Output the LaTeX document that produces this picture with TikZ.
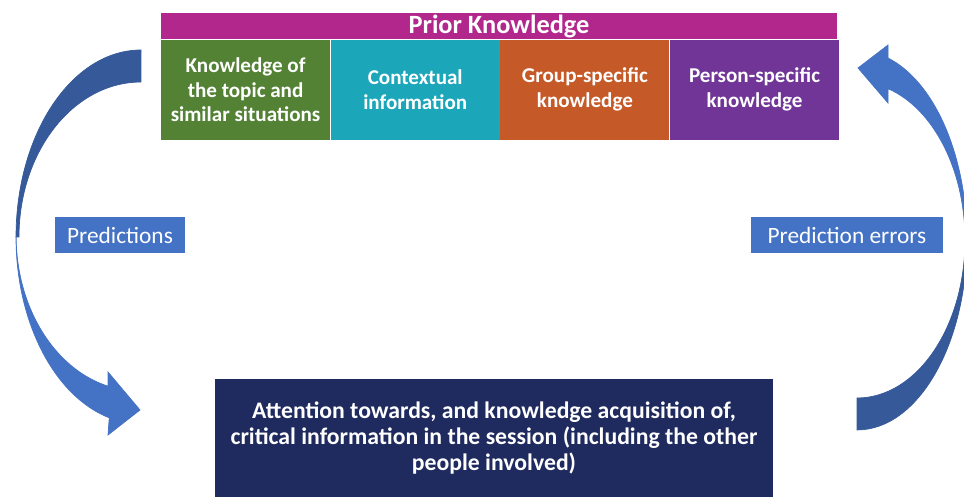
\documentclass[tikz,border=0pt]{standalone}
\usepackage{fontspec}
\setmainfont{Carlito}
\usetikzlibrary{positioning}

\definecolor{priorpink}{RGB}{177,39,140}
\definecolor{topicgreen}{RGB}{84,130,53}
\definecolor{contextteal}{RGB}{27,166,185}
\definecolor{grouporange}{RGB}{197,90,40}
\definecolor{personpurple}{RGB}{112,53,150}
\definecolor{sessionnavy}{RGB}{31,42,94}
\definecolor{tagblue}{RGB}{68,114,196}
\definecolor{backblue}{RGB}{54,89,154}
\definecolor{edgeblue}{RGB}{40,70,130}

\begin{document}
\begin{tikzpicture}[x = 0.02cm, y = 0.02cm,
    every node/.style = {inner sep = 0pt, text = white, align = center},
    part/.style = {minimum width = 3.38cm, minimum height = 2cm,
        font = \bfseries\fontsize{12}{14.2}\selectfont},
    tag/.style = {fill = tagblue, minimum height = 0.72cm,
        font = \fontsize{13.3}{16}\selectfont},
    loopband/.style = {draw = edgeblue, line width = 0.4pt}]
    \useasboundingbox (0,0) rectangle (964,497);
    \clip (0,0) rectangle (964,497);

    % prior knowledge bar and its four parts
    \node[fill = priorpink, minimum width = 13.52cm, minimum height = 0.52cm,
        font = \bfseries\fontsize{15}{18}\selectfont] (prior) at (499,471) {Prior Knowledge};
    \node[part, fill = topicgreen, anchor = north west] (topic) at (prior.south west)
        {Knowledge of\\the topic and\\similar situations};
    \node[part, fill = contextteal, right = 0pt of topic] (context) {Contextual\\information};
    \node[part, fill = grouporange, right = 0pt of context] (group) {Group-specific\\knowledge};
    \node[part, fill = personpurple, right = 0pt of group] (person) {Person-specific\\knowledge};

    % labels of the two loops
    \node[tag, minimum width = 2.6cm] (pred) at (120,262) {Predictions};
    \node[tag, minimum width = 3.84cm] (error) at (847,262) {Prediction errors};

    % session box
    \node[fill = sessionnavy, minimum width = 11.16cm, minimum height = 2.36cm,
        font = \bfseries\fontsize{13.5}{15}\selectfont] (session) at (494,59)
        {Attention towards, and knowledge acquisition of,\\critical information in the session (including the other\\people involved)};

    % left curved arrow, down to the session
    \fill[loopband, backblue] (141,447) arc[start angle = 90, end angle = 180, x radius = 2.5cm, y radius = 3.74cm]
        -- (19,260) arc[start angle = 180, end angle = 90, x radius = 2.44cm, y radius = 3.1cm] -- cycle;
    \fill[loopband, tagblue] (16,260) arc[start angle = 180, end angle = 255.3, x radius = 2.5cm, y radius = 3.74cm]
        -- (108,62) -- (140,87) -- (108,125) -- (108,110.8)
        arc[start angle = 255.7, end angle = 180, x radius = 2.44cm, y radius = 3.1cm] -- cycle;

    % right curved arrow, back up to prior knowledge
    \fill[loopband, backblue] (967,257) arc[start angle = 0, end angle = -90, x radius = 2.2cm, y radius = 3.8cm]
        -- (857,99) arc[start angle = -90, end angle = 0, x radius = 2.16cm, y radius = 3.16cm] -- cycle;
    \fill[loopband, tagblue] (888,439) arc[start angle = 73.6, end angle = 0, x radius = 2.2cm, y radius = 3.8cm]
        -- (965,257) arc[start angle = 0, end angle = 73.3, x radius = 2.16cm, y radius = 3.16cm]
        -- (888,394) -- (858,429) -- (888,452) -- cycle;
\end{tikzpicture}
\end{document}
